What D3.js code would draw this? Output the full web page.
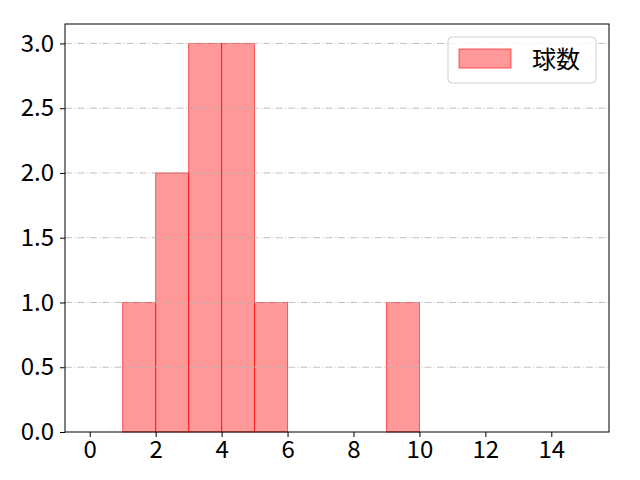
<!DOCTYPE html>
<html>
<head>
<meta charset="utf-8">
<script src="https://cdn.jsdelivr.net/npm/d3@7"></script>
<style>
  body { margin: 0; background: #fff; }
  text { font-family: "Noto Sans CJK JP", "DejaVu Sans", sans-serif; }
</style>
</head>
<body>
<svg id="chart" width="640" height="480"></svg>
<script>
// histogram bins and counts
const binStarts = [1, 2, 3, 4, 5, 9];
const binCounts = [1, 2, 3, 3, 1, 1];
const binWidth = 1;
const xTicks = [0, 2, 4, 6, 8, 10, 12, 14];
const yTicks = [0, 0.5, 1.0, 1.5, 2.0, 2.5, 3.0];
const seriesName = "球数";

const margin = { left: 65, right: 31, top: 24, bottom: 48 };
const width = 640, height = 480;

const x = d3.scaleLinear().domain([-0.75, 15.75]).range([margin.left, width - margin.right]);
const y = d3.scaleLinear().domain([0, 3.15]).range([height - margin.bottom, margin.top]);

const svg = d3.select("#chart");

// bars
svg.append("g").selectAll("rect")
  .data(binStarts)
  .enter().append("rect")
  .attr("x", d => x(d))
  .attr("y", (d, i) => y(binCounts[i]))
  .attr("width", d => x(d + binWidth) - x(d))
  .attr("height", (d, i) => y(0) - y(binCounts[i]))
  .attr("fill", "rgba(255,0,0,0.4)")
  .attr("stroke", "rgba(255,0,0,0.6)")
  .attr("stroke-width", 1);

// grid lines on top
svg.append("g").selectAll("line")
  .data(yTicks.slice(1))
  .enter().append("line")
  .attr("x1", margin.left)
  .attr("x2", width - margin.right)
  .attr("y1", d => y(d))
  .attr("y2", d => y(d))
  .attr("stroke", "#b0b0b0")
  .attr("stroke-width", 0.8)
  .attr("stroke-dasharray", "7,2.2,1,2.2");

// frame
svg.append("rect")
  .attr("x", margin.left)
  .attr("y", margin.top)
  .attr("width", width - margin.left - margin.right)
  .attr("height", height - margin.top - margin.bottom)
  .attr("fill", "none")
  .attr("stroke", "#000")
  .attr("stroke-width", 1);

// axes
const xAxis = svg.append("g")
  .attr("transform", `translate(0,${height - margin.bottom})`)
  .call(d3.axisBottom(x).tickValues(xTicks).tickSize(5).tickPadding(4).tickFormat(d3.format("d")));
const yAxis = svg.append("g")
  .attr("transform", `translate(${margin.left},0)`)
  .call(d3.axisLeft(y).tickValues(yTicks).tickSize(5).tickPadding(6).tickFormat(d3.format(".1f")));
[xAxis, yAxis].forEach(a => {
  a.attr("font-size", null).attr("font-family", null);
  a.select(".domain").remove();
  a.selectAll("text")
    .style("font-size", "24px")
    .style("font-family", '"Noto Sans CJK JP", sans-serif')
    .attr("fill", "#000");
  a.selectAll("line").attr("stroke", "#000").attr("stroke-width", 1);
});

// legend
const lg = svg.append("g").attr("transform", "translate(448,37)");
lg.append("rect")
  .attr("width", 148).attr("height", 46).attr("rx", 4)
  .attr("fill", "rgba(255,255,255,0.8)")
  .attr("stroke", "#d0d0d0");
lg.append("rect")
  .attr("x", 11).attr("y", 12).attr("width", 52).attr("height", 19)
  .attr("fill", "rgba(255,0,0,0.4)")
  .attr("stroke", "rgba(255,0,0,0.6)");
lg.append("text")
  .attr("x", 84).attr("y", 31)
  .style("font-size", "24px")
  .attr("fill", "#000")
  .text(seriesName);
</script>
</body>
</html>
